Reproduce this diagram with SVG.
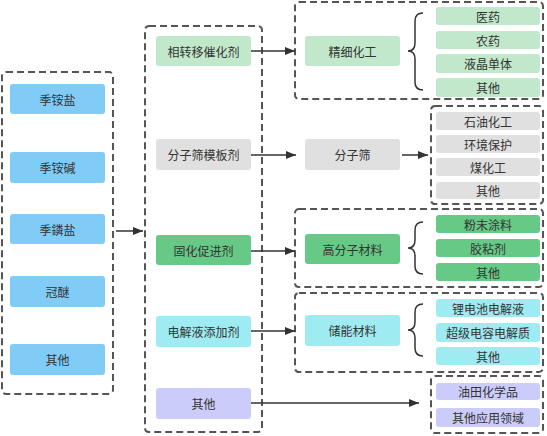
<svg xmlns="http://www.w3.org/2000/svg" width="547" height="436" viewBox="0 0 547 436">
<defs>
<style>
.grp{fill:none;stroke:#555;stroke-width:2;stroke-dasharray:7 4}
.n{stroke:none}
.blue{fill:#80CCF7}
.lg{fill:#C2E8CC}
.gray{fill:#E0E0E0}
.dg{fill:#66C986}
.cyan{fill:#9EEBF2}
.pur{fill:#CCCCFA}
text{font-family:"Noto Sans CJK SC","Liberation Sans",sans-serif;font-size:12px;fill:#333;text-anchor:middle;dominant-baseline:central}
.c{fill:none;stroke:#333;stroke-width:1.5}
.br{fill:none;stroke:#333;stroke-width:1.5}
</style>
<marker id="ah" viewBox="0 0 10 8" refX="10" refY="4" markerWidth="10" markerHeight="8" markerUnits="userSpaceOnUse" orient="auto">
<path d="M0,0 L10,4 L0,8 Z" fill="#333"/>
</marker>
</defs>
<rect width="547" height="436" fill="#fff"/>

<g id="groups">
<rect class="grp" x="2" y="72" width="111" height="322" rx="4"/>
<rect class="grp" x="145" y="26" width="117" height="406" rx="4"/>
<rect class="grp" x="295" y="2" width="248" height="97" rx="4"/>
<rect class="grp" x="431" y="106" width="112" height="98" rx="4"/>
<rect class="grp" x="295" y="209" width="248" height="78" rx="4"/>
<rect class="grp" x="295" y="293" width="248" height="79" rx="4"/>
<rect class="grp" x="431" y="376" width="112" height="57" rx="4"/>
</g>

<g id="left">
<g id="n-jianyan"><rect class="n blue" x="10" y="84" width="95" height="30" rx="3"/><text x="57.5" y="99">季铵盐</text></g>
<g id="n-jianjian"><rect class="n blue" x="10" y="152" width="95" height="31" rx="3"/><text x="57.5" y="167.5">季铵碱</text></g>
<g id="n-linyan"><rect class="n blue" x="10" y="214" width="95" height="30" rx="3"/><text x="57.5" y="229">季鏻盐</text></g>
<g id="n-guanmi"><rect class="n blue" x="10" y="276" width="95" height="31" rx="3"/><text x="57.5" y="291.5">冠醚</text></g>
<g id="n-left-other"><rect class="n blue" x="10" y="344" width="95" height="31" rx="3"/><text x="57.5" y="359.5">其他</text></g>
</g>

<g id="middle">
<g id="n-ptc"><rect class="n lg" x="156" y="36" width="95" height="30" rx="3"/><text x="203.5" y="51">相转移催化剂</text></g>
<g id="n-msa"><rect class="n gray" x="156" y="139" width="95" height="31" rx="3"/><text x="203.5" y="154.5">分子筛模板剂</text></g>
<g id="n-cure"><rect class="n dg" x="156" y="235" width="95" height="30" rx="3"/><text x="203.5" y="250">固化促进剂</text></g>
<g id="n-elec"><rect class="n cyan" x="156" y="316" width="95" height="31" rx="3"/><text x="203.5" y="331.5">电解液添加剂</text></g>
<g id="n-mid-other"><rect class="n pur" x="156" y="388" width="95" height="31" rx="3"/><text x="203.5" y="403.5">其他</text></g>
</g>

<g id="third">
<g id="n-fine"><rect class="n lg" x="305" y="36" width="95" height="30" rx="3"/><text x="352.5" y="51">精细化工</text></g>
<g id="n-ms"><rect class="n gray" x="305" y="139" width="95" height="31" rx="3"/><text x="352.5" y="154.5">分子筛</text></g>
<g id="n-poly"><rect class="n dg" x="305" y="234" width="95" height="30" rx="3"/><text x="352.5" y="249">高分子材料</text></g>
<g id="n-energy"><rect class="n cyan" x="305" y="315" width="95" height="31" rx="3"/><text x="352.5" y="330.5">储能材料</text></g>
</g>

<g id="leaves">
<g id="l-yiyao"><rect class="n lg" x="436" y="7" width="104" height="18" rx="3"/><text x="488" y="16">医药</text></g>
<g id="l-nongyao"><rect class="n lg" x="436" y="31" width="104" height="18" rx="3"/><text x="488" y="40">农药</text></g>
<g id="l-yejing"><rect class="n lg" x="436" y="54" width="104" height="19" rx="3"/><text x="488" y="63.5">液晶单体</text></g>
<g id="l-fine-other"><rect class="n lg" x="436" y="78" width="104" height="19" rx="3"/><text x="488" y="87.5">其他</text></g>

<g id="l-shiyou"><rect class="n gray" x="436" y="112" width="104" height="18" rx="3"/><text x="488" y="121">石油化工</text></g>
<g id="l-huanjing"><rect class="n gray" x="436" y="135" width="104" height="18" rx="3"/><text x="488" y="144">环境保护</text></g>
<g id="l-mei"><rect class="n gray" x="436" y="158" width="104" height="18" rx="3"/><text x="488" y="167">煤化工</text></g>
<g id="l-ms-other"><rect class="n gray" x="436" y="182" width="104" height="17" rx="3"/><text x="488" y="190.5">其他</text></g>

<g id="l-fenmo"><rect class="n dg" x="436" y="215" width="104" height="18" rx="3"/><text x="488" y="224">粉末涂料</text></g>
<g id="l-jiao"><rect class="n dg" x="436" y="239" width="104" height="18" rx="3"/><text x="488" y="248">胶粘剂</text></g>
<g id="l-poly-other"><rect class="n dg" x="436" y="263" width="104" height="18" rx="3"/><text x="488" y="272">其他</text></g>

<g id="l-li"><rect class="n cyan" x="436" y="299" width="104" height="18" rx="3"/><text x="488" y="308">锂电池电解液</text></g>
<g id="l-cap"><rect class="n cyan" x="436" y="323" width="104" height="19" rx="3"/><text x="488" y="332.5">超级电容电解质</text></g>
<g id="l-en-other"><rect class="n cyan" x="436" y="347" width="104" height="18" rx="3"/><text x="488" y="356">其他</text></g>

<g id="l-oil"><rect class="n pur" x="436" y="383" width="104" height="17" rx="3"/><text x="488" y="391.5">油田化学品</text></g>
<g id="l-app"><rect class="n pur" x="436" y="408" width="104" height="19" rx="3"/><text x="488" y="417.5">其他应用领域</text></g>
</g>

<g id="connectors">
<line class="c" x1="116" y1="231" x2="143" y2="231" marker-end="url(#ah)"/>
<line class="c" x1="251" y1="51" x2="295" y2="51" marker-end="url(#ah)"/>
<line class="c" x1="251" y1="155" x2="296" y2="155" marker-end="url(#ah)"/>
<line class="c" x1="251" y1="251" x2="295" y2="251" marker-end="url(#ah)"/>
<line class="c" x1="251" y1="331" x2="295" y2="331" marker-end="url(#ah)"/>
<line class="c" x1="251" y1="403" x2="419" y2="403" marker-end="url(#ah)"/>
<line class="c" x1="402" y1="155" x2="428" y2="155" marker-end="url(#ah)"/>
<path class="br" d="M423,13 Q415,13 415,21 L415,43 Q415,51 408,51 Q415,51 415,59 L415,82 Q415,90 423,90"/>
<path class="br" d="M423,222 Q415,222 415,230 L415,240 Q415,248 408,248 Q415,248 415,256 L415,266 Q415,274 423,274"/>
<path class="br" d="M423,304 Q415,304 415,312 L415,322 Q415,330 408,330 Q415,330 415,338 L415,348 Q415,356 423,356"/>
</g>
</svg>
